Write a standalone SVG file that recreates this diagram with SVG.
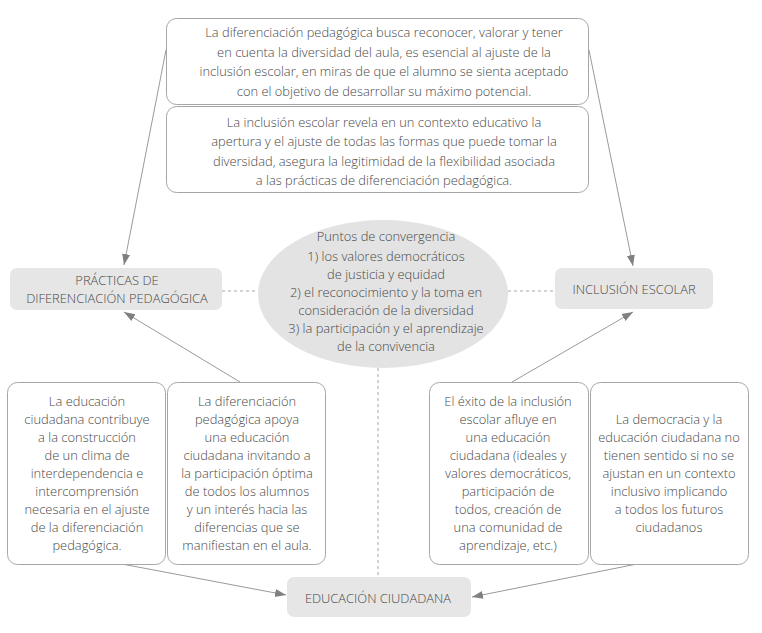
<svg xmlns="http://www.w3.org/2000/svg" width="762" height="633" viewBox="0 0 762 633">
<style>
text{font-family:"Open Sans","DejaVu Sans",sans-serif;font-size:12.9px;font-weight:300;fill:#484848;text-anchor:middle}
.box{fill:#fff;stroke:#a6a6a6;stroke-width:1}
.node{fill:#e6e6e6;stroke:none}
.ln{stroke:#9a9a9a;stroke-width:1;fill:none}
.dash{stroke:#a6a6a6;stroke-width:1;stroke-dasharray:3,3;fill:none}
</style>
<defs>
<marker id="ah" viewBox="0 0 11 10" refX="11" refY="5" markerWidth="11" markerHeight="10" markerUnits="userSpaceOnUse" orient="auto">
<path d="M0,1 L11,5 L0,9 Z" fill="#808080"/>
</marker>
</defs>
<rect width="762" height="633" fill="#fff"/>
<g id="connectors">
<line class="ln" x1="166" y1="50" x2="124" y2="265" marker-end="url(#ah)"/>
<line class="ln" x1="589" y1="50" x2="633" y2="266" marker-end="url(#ah)"/>
<line class="ln" x1="240" y1="382" x2="124" y2="312" marker-end="url(#ah)"/>
<line class="ln" x1="512" y1="382" x2="633" y2="312" marker-end="url(#ah)"/>
<line class="ln" x1="122" y1="564" x2="286" y2="595" marker-end="url(#ah)"/>
<line class="ln" x1="637" y1="564" x2="472" y2="597" marker-end="url(#ah)"/>
<line class="dash" x1="222" y1="291" x2="258" y2="291"/>
<line class="dash" x1="508" y1="291" x2="555" y2="291"/>
<line class="dash" x1="378" y1="368" x2="378" y2="577"/>
</g>
<g id="top1">
<rect class="box" x="166.5" y="18.5" width="422" height="86" rx="10"/>
<text x="384" y="37">La diferenciación pedagógica busca reconocer, valorar y tener</text>
<text x="384" y="56.5">en cuenta la diversidad del aula, es esencial al ajuste de la</text>
<text x="384" y="76">inclusión escolar, en miras de que el alumno se sienta aceptado</text>
<text x="384" y="95.5">con el objetivo de desarrollar su máximo potencial.</text>
</g>
<g id="top2">
<rect class="box" x="166.5" y="106.5" width="422" height="86" rx="10"/>
<text x="384" y="126.5">La inclusión escolar revela en un contexto educativo la</text>
<text x="384" y="146">apertura y el ajuste de todas las formas que puede tomar la</text>
<text x="384" y="165.5">diversidad, asegura la legitimidad de la flexibilidad asociada</text>
<text x="384" y="185">a las prácticas de diferenciación pedagógica.</text>
</g>
<g id="practicas">
<rect class="node" x="10" y="268" width="212" height="42" rx="7"/>
<text x="117" y="285">PRÁCTICAS DE</text>
<text x="117" y="303">DIFERENCIACIÓN PEDAGÓGICA</text>
</g>
<g id="puntos">
<ellipse cx="383" cy="294" rx="125" ry="74" fill="#e3e3e3"/>
<text x="386" y="241">Puntos de convergencia</text>
<text x="386" y="261">1) los valores democráticos</text>
<text x="386" y="279">de justicia y equidad</text>
<text x="386" y="297">2) el reconocimiento y la toma en</text>
<text x="386" y="315">consideración de la diversidad</text>
<text x="386" y="333">3) la participación y el aprendizaje</text>
<text x="386" y="351">de la convivencia</text>
</g>
<g id="inclusion">
<rect class="node" x="555" y="268" width="158" height="41" rx="7"/>
<text x="634" y="294">INCLUSIÓN ESCOLAR</text>
</g>
<g id="boxA">
<rect class="box" x="7.5" y="382.5" width="158" height="182" rx="10"/>
<text x="87" y="406">La educación</text>
<text x="87" y="424">ciudadana contribuye</text>
<text x="87" y="442">a la construcción</text>
<text x="87" y="460">de un clima de</text>
<text x="87" y="478">interdependencia e</text>
<text x="87" y="496">intercomprensión</text>
<text x="87" y="514">necesaria en el ajuste</text>
<text x="87" y="532">de la diferenciación</text>
<text x="87" y="550">pedagógica.</text>
</g>
<g id="boxB">
<rect class="box" x="167.5" y="382.5" width="158" height="182" rx="10"/>
<text x="247" y="406">La diferenciación</text>
<text x="247" y="424">pedagógica apoya</text>
<text x="247" y="442">una educación</text>
<text x="247" y="460">ciudadana invitando a</text>
<text x="247" y="478">la participación óptima</text>
<text x="247" y="496">de todos los alumnos</text>
<text x="247" y="514">y un interés hacia las</text>
<text x="247" y="532">diferencias que se</text>
<text x="247" y="550">manifiestan en el aula.</text>
</g>
<g id="boxC">
<rect class="box" x="429.5" y="382.5" width="159" height="182" rx="10"/>
<text x="508" y="406">El éxito de la inclusión</text>
<text x="508" y="424">escolar afluye en</text>
<text x="508" y="442">una educación</text>
<text x="508" y="460">ciudadana (ideales y</text>
<text x="508" y="478">valores democráticos,</text>
<text x="508" y="496">participación de</text>
<text x="508" y="514">todos, creación de</text>
<text x="508" y="532">una comunidad de</text>
<text x="508" y="550">aprendizaje, etc.)</text>
</g>
<g id="boxD">
<rect class="box" x="590.5" y="382.5" width="158" height="182" rx="10"/>
<text x="669" y="424">La democracia y la</text>
<text x="669" y="442">educación ciudadana no</text>
<text x="669" y="460">tienen sentido si no se</text>
<text x="669" y="478">ajustan en un contexto</text>
<text x="669" y="496">inclusivo implicando</text>
<text x="669" y="514">a todos los futuros</text>
<text x="669" y="532">ciudadanos</text>
</g>
<g id="educacion">
<rect class="node" x="287" y="577" width="184" height="40" rx="7"/>
<text x="378" y="603">EDUCACIÓN CIUDADANA</text>
</g>
</svg>
